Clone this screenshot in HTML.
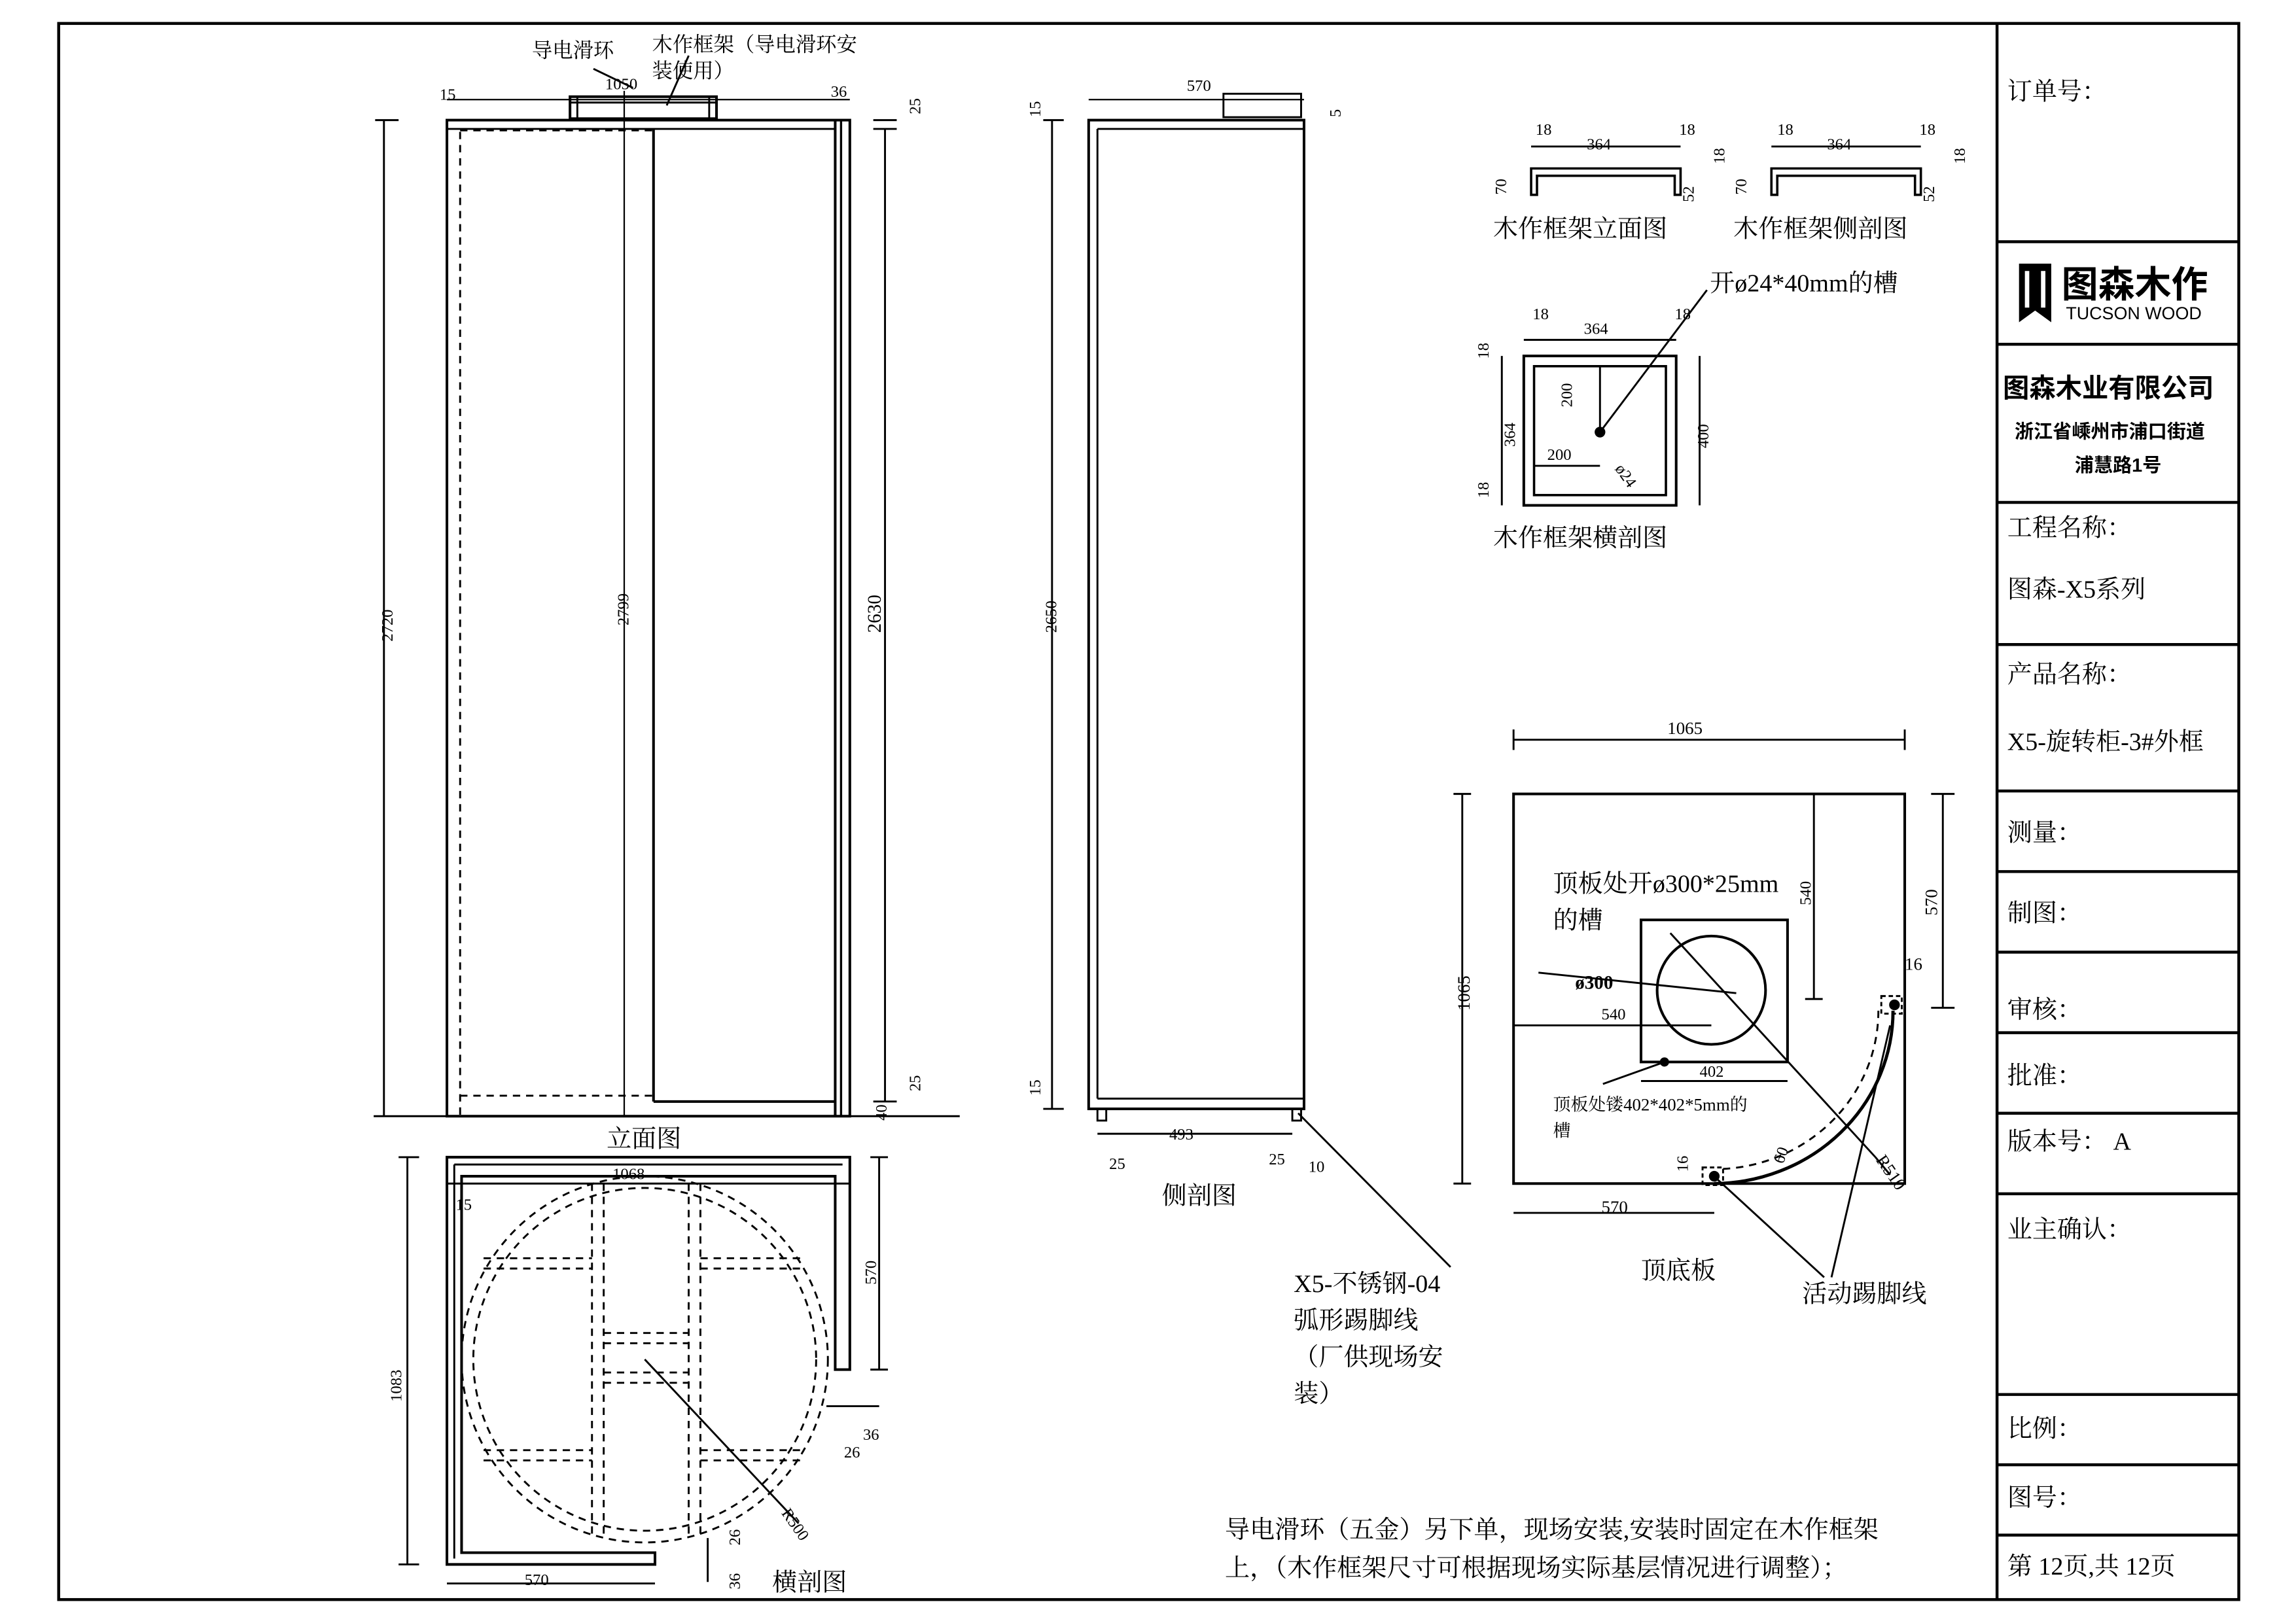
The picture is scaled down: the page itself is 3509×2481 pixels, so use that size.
<!DOCTYPE html>
<html><head><meta charset="utf-8"><style>
html,body{margin:0;padding:0;background:#fff}
svg{display:block}
text{font-family:"Liberation Serif","Noto Serif CJK SC","Noto Sans CJK SC",serif;fill:#000}
.t{font-family:"Liberation Sans","Noto Sans CJK SC",sans-serif}
</style></head><body>
<svg width="3509" height="2481" viewBox="0 0 1567 1108" xmlns="http://www.w3.org/2000/svg">
<g fill="none" stroke="#000" stroke-width="1.3">
<!-- border -->
<rect x="40" y="16" width="1488" height="1076" stroke-width="2"/>
<line x1="1363" y1="16" x2="1363" y2="1092" stroke-width="2"/>
<g stroke-width="2">
<line x1="1363" y1="165" x2="1528" y2="165"/><line x1="1363" y1="235" x2="1528" y2="235"/>
<line x1="1363" y1="343" x2="1528" y2="343"/><line x1="1363" y1="440" x2="1528" y2="440"/>
<line x1="1363" y1="540" x2="1528" y2="540"/><line x1="1363" y1="595" x2="1528" y2="595"/>
<line x1="1363" y1="650" x2="1528" y2="650"/><line x1="1363" y1="705" x2="1528" y2="705"/>
<line x1="1363" y1="760" x2="1528" y2="760"/><line x1="1363" y1="815" x2="1528" y2="815"/>
<line x1="1363" y1="952" x2="1528" y2="952"/><line x1="1363" y1="1000" x2="1528" y2="1000"/>
<line x1="1363" y1="1048" x2="1528" y2="1048"/>
</g>

<!-- elevation -->
<rect x="305" y="82" width="275" height="680" stroke-width="1.8"/>
<line x1="305" y1="88" x2="570" y2="88"/>
<line x1="314" y1="90" x2="314" y2="762" stroke-dasharray="5,4"/>
<line x1="314" y1="89" x2="445" y2="89" stroke-dasharray="5,4"/>
<line x1="314" y1="748" x2="445" y2="748" stroke-dasharray="5,4"/>
<line x1="446" y1="88" x2="446" y2="752" stroke-width="1.8"/>
<line x1="446" y1="752" x2="570" y2="752" stroke-width="1.8"/>
<line x1="570" y1="82" x2="570" y2="762" stroke-width="1.8"/>
<line x1="574" y1="82" x2="574" y2="762" stroke-width="1.5"/>
<line x1="426" y1="62" x2="426" y2="762" stroke-width="1"/>
<rect x="389" y="66" width="100" height="15" stroke-width="1.8"/>
<line x1="389" y1="70" x2="489" y2="70"/><line x1="394" y1="66" x2="394" y2="81"/><line x1="484" y1="66" x2="484" y2="81"/>
<line x1="305" y1="68" x2="580" y2="68" stroke-width="1"/>
<line x1="255" y1="762" x2="655" y2="762"/>
<line x1="262" y1="82" x2="262" y2="762"/><line x1="256" y1="82" x2="272" y2="82"/>
<line x1="604" y1="88" x2="604" y2="752"/><line x1="596" y1="88" x2="612" y2="88"/><line x1="596" y1="752" x2="612" y2="752"/><line x1="596" y1="82" x2="612" y2="82"/>
<line x1="405" y1="47" x2="432" y2="60"/><line x1="470" y1="38" x2="455" y2="72"/>

<!-- side section -->
<rect x="743" y="82" width="147" height="675" stroke-width="1.8"/>
<line x1="749" y1="88" x2="749" y2="750"/><line x1="749" y1="88" x2="890" y2="88"/>
<line x1="749" y1="750" x2="890" y2="750"/>
<rect x="835" y="64" width="53" height="16"/>
<rect x="749" y="757" width="6" height="8"/><rect x="882" y="757" width="6" height="8"/>
<line x1="743" y1="68" x2="890" y2="68" stroke-width="1"/>
<line x1="718" y1="82" x2="718" y2="757"/><line x1="712" y1="82" x2="726" y2="82"/><line x1="712" y1="757" x2="726" y2="757"/>
<line x1="749" y1="774" x2="882" y2="774"/>
<line x1="886" y1="760" x2="990" y2="865"/>

<!-- cross section -->
<path d="M305 790 H580 V935 H570 V803 H315 V1060 H447 V1068 H305 Z" stroke-width="1.8"/>
<line x1="310" y1="795" x2="575" y2="795"/><line x1="310" y1="795" x2="310" y2="1064"/>
<circle cx="440" cy="928" r="125" stroke-dasharray="5,4"/>
<circle cx="440" cy="928" r="117" stroke-dasharray="5,4"/>
<g stroke-dasharray="5,4">
<line x1="404" y1="808" x2="404" y2="1050"/><line x1="412" y1="808" x2="412" y2="1050"/>
<line x1="470" y1="808" x2="470" y2="1050"/><line x1="478" y1="808" x2="478" y2="1050"/>
<line x1="330" y1="859" x2="404" y2="859"/><line x1="330" y1="866" x2="404" y2="866"/>
<line x1="478" y1="859" x2="550" y2="859"/><line x1="478" y1="866" x2="550" y2="866"/>
<line x1="412" y1="910" x2="470" y2="910"/><line x1="412" y1="917" x2="470" y2="917"/>
<line x1="412" y1="937" x2="470" y2="937"/><line x1="412" y1="944" x2="470" y2="944"/>
<line x1="330" y1="990" x2="404" y2="990"/><line x1="330" y1="997" x2="404" y2="997"/>
<line x1="478" y1="990" x2="550" y2="990"/><line x1="478" y1="997" x2="550" y2="997"/>
</g>
<line x1="440" y1="928" x2="545" y2="1040"/>
<line x1="278" y1="790" x2="278" y2="1068"/><line x1="272" y1="790" x2="286" y2="790"/><line x1="272" y1="1068" x2="286" y2="1068"/>
<line x1="600" y1="790" x2="600" y2="935"/><line x1="594" y1="790" x2="606" y2="790"/><line x1="594" y1="935" x2="606" y2="935"/>
<line x1="305" y1="1081" x2="447" y2="1081"/>
<line x1="305" y1="808" x2="580" y2="808"/>
<line x1="564" y1="960" x2="600" y2="960"/>
<line x1="483" y1="1050" x2="483" y2="1080"/>

<!-- frame views -->
<path d="M1045 133 V115 H1147 V133 H1143 V120 H1049 V133 Z" stroke-width="1.6"/>
<line x1="1045" y1="100" x2="1147" y2="100"/>
<path d="M1209 133 V115 H1311 V133 H1307 V120 H1213 V133 Z" stroke-width="1.6"/>
<line x1="1209" y1="100" x2="1311" y2="100"/>
<rect x="1040" y="243" width="104" height="102" stroke-width="1.8"/>
<rect x="1047" y="250" width="90" height="88" stroke-width="1.6"/>
<line x1="1040" y1="232" x2="1144" y2="232"/>
<line x1="1025" y1="243" x2="1025" y2="345"/><line x1="1160" y1="243" x2="1160" y2="345"/>
<line x1="1092" y1="250" x2="1092" y2="295"/><line x1="1047" y1="318" x2="1092" y2="318"/>
<line x1="1092" y1="295" x2="1165" y2="198"/>
<circle cx="1092" cy="295" r="3" fill="#000"/>

<!-- top plate -->
<rect x="1033" y="542" width="267" height="266" stroke-width="1.8"/>
<rect x="1120" y="628" width="100" height="97" stroke-width="1.8"/>
<circle cx="1168" cy="676" r="37" stroke-width="1.8"/>
<line x1="1033" y1="505" x2="1300" y2="505"/><line x1="1033" y1="498" x2="1033" y2="512"/><line x1="1300" y1="498" x2="1300" y2="512"/>
<line x1="998" y1="542" x2="998" y2="808"/><line x1="992" y1="542" x2="1004" y2="542"/><line x1="992" y1="808" x2="1004" y2="808"/>
<line x1="1033" y1="828" x2="1170" y2="828"/>
<line x1="1326" y1="542" x2="1326" y2="688"/><line x1="1318" y1="542" x2="1334" y2="542"/><line x1="1318" y1="688" x2="1334" y2="688"/>
<line x1="1238" y1="542" x2="1238" y2="682"/><line x1="1232" y1="682" x2="1244" y2="682"/>
<line x1="1033" y1="700" x2="1168" y2="700"/>
<line x1="1120" y1="738" x2="1220" y2="738"/>
<line x1="1050" y1="664" x2="1185" y2="678"/>
<line x1="1140" y1="637" x2="1280" y2="790"/>
<line x1="1280" y1="790" x2="1290" y2="802"/>
<path d="M1292 690 A123 118 0 0 1 1170 808" stroke-width="2.2"/>
<path d="M1282 690 A112 108 0 0 1 1176 798" stroke-dasharray="5,4"/>
<rect x="1284" y="680" width="14" height="12" stroke-dasharray="3,2"/>
<rect x="1162" y="797" width="14" height="12" stroke-dasharray="3,2"/>
<circle cx="1293" cy="686" r="3" fill="#000"/><circle cx="1170" cy="803" r="3" fill="#000"/>
<circle cx="1136" cy="725" r="2.5" fill="#000"/>
<line x1="1136" y1="725" x2="1094" y2="740"/>
<line x1="1172" y1="805" x2="1245" y2="872"/>
<line x1="1290" y1="700" x2="1250" y2="872"/>
</g>

<g font-size="11">
<text x="300" y="68">15</text><text x="413" y="61">1050</text><text x="567" y="66">36</text>
<text x="810" y="62">570</text><text x="798" y="778">493</text>
<text x="418" y="805">1068</text>
<text x="1083" y="102">364</text><text x="1048" y="92">18</text><text x="1146" y="92">18</text>
<text x="1247" y="102">364</text><text x="1213" y="92">18</text><text x="1310" y="92">18</text>
<text x="1081" y="228">364</text><text x="1046" y="218">18</text><text x="1143" y="218">18</text>
<text x="1056" y="314">200</text>
<text x="1160" y="735">402</text>
<text x="1093" y="696">540</text>
<text x="311" y="826">15</text>
<text x="589" y="983">36</text><text x="576" y="995">26</text>
<text x="358" y="1082">570</text>
</g>
<g font-size="12">
<text x="1138" y="501">1065</text><text x="1093" y="828">570</text>
<text x="1300" y="662">16</text>
</g>
<g font-size="11">
<text transform="translate(268,438) rotate(-90)">2720</text>
<text transform="translate(429,427) rotate(-90)">2799</text>
<text transform="translate(601,432) rotate(-90)" font-size="13">2630</text>
<text transform="translate(721,432) rotate(-90)">2650</text>
<text transform="translate(274,957) rotate(-90)">1083</text>
<text transform="translate(598,877) rotate(-90)">570</text>
<text transform="translate(1003,690) rotate(-90)" font-size="12">1065</text>
<text transform="translate(1322,625) rotate(-90)" font-size="12">570</text>
<text transform="translate(1236,618) rotate(-90)">540</text>
<text transform="translate(1034,305) rotate(-90)">364</text>
<text transform="translate(1166,306) rotate(-90)">400</text>
<text transform="translate(1073,278) rotate(-90)">200</text>
<text transform="translate(628,78) rotate(-90)">25</text>
<text transform="translate(628,745) rotate(-90)">25</text>
<text transform="translate(605,765) rotate(-90)">40</text>
<text transform="translate(710,80) rotate(-90)">15</text>
<text transform="translate(710,748) rotate(-90)">15</text>
<text transform="translate(915,80) rotate(-90)">5</text>
<text transform="translate(1028,133) rotate(-90)">70</text>
<text transform="translate(1192,133) rotate(-90)">70</text>
<text transform="translate(1177,112) rotate(-90)">18</text>
<text transform="translate(1341,112) rotate(-90)">18</text>
<text transform="translate(1016,245) rotate(-90)">18</text>
<text transform="translate(1016,340) rotate(-90)">18</text>
<text transform="translate(1156,138) rotate(-90)">52</text>
<text transform="translate(1320,138) rotate(-90)">52</text>
<text transform="translate(1152,800) rotate(-90)">16</text>
<text transform="translate(1217,795) rotate(-70)">60</text>
<text transform="translate(1280,792) rotate(55)" font-size="12">R510</text>
<text transform="translate(533,1033) rotate(55)">R500</text>
<text transform="translate(1102,320) rotate(55)">ø24</text>
<text transform="translate(505,1055) rotate(-90)">26</text>
<text transform="translate(505,1085) rotate(-90)">36</text>
</g>
<text x="757" y="798" font-size="11">25</text><text x="866" y="795" font-size="11">25</text><text x="893" y="800" font-size="11">10</text>

<g font-size="14">
<text x="363" y="39">导电滑环</text>
<text x="445" y="35">木作框架（导电滑环安</text>
<text x="445" y="53">装使用）</text>
</g>
<g font-size="17">
<text x="414" y="783">立面图</text>
<text x="793" y="822">侧剖图</text>
<text x="527" y="1086">横剖图</text>
<text x="1120" y="873">顶底板</text>
<text x="1230" y="889">活动踢脚线</text>
<text x="883" y="882">X5-不锈钢-04</text>
<text x="883" y="907">弧形踢脚线</text>
<text x="883" y="932">（厂供现场安</text>
<text x="883" y="957">装）</text>
<text x="1019" y="162">木作框架立面图</text>
<text x="1183" y="162">木作框架侧剖图</text>
<text x="1167" y="199">开ø24*40mm的槽</text>
<text x="1019" y="373">木作框架横剖图</text>
<text x="1060" y="609">顶板处开ø300*25mm</text>
<text x="1060" y="634">的槽</text>
<text x="836" y="1050">导电滑环（五金）另下单，现场安装,安装时固定在木作框架</text>
<text x="836" y="1076">上，（木作框架尺寸可根据现场实际基层情况进行调整）；</text>
</g>
<text x="1075" y="675" font-size="13" font-weight="bold">ø300</text>
<text x="1060" y="758" font-size="12">顶板处镂402*402*5mm的</text>
<text x="1060" y="776" font-size="12">槽</text>

<!-- title block -->
<g font-size="17">
<text x="1370" y="68">订单号：</text>
<text x="1370" y="366">工程名称：</text>
<text x="1370" y="408">图森-X5系列</text>
<text x="1370" y="466">产品名称：</text>
<text x="1370" y="512">X5-旋转柜-3#外框</text>
<text x="1370" y="574">测量：</text>
<text x="1370" y="629">制图：</text>
<text x="1370" y="695">审核：</text>
<text x="1370" y="740">批准：</text>
<text x="1370" y="785">版本号：   A</text>
<text x="1370" y="845">业主确认：</text>
<text x="1370" y="981">比例：</text>
<text x="1370" y="1028">图号：</text>
<text x="1370" y="1075">第 12页,共 12页</text>
</g>
<path d="M1378 180 H1400 V220 L1389 212 L1378 220 Z" fill="#000"/>
<rect x="1382" y="185" width="3" height="25" fill="#fff"/><rect x="1393" y="185" width="3" height="25" fill="#fff"/>
<text class="t" x="1407" y="203" font-size="25" font-weight="bold">图森木作</text>
<text class="t" x="1410" y="218" font-size="12">TUCSON WOOD</text>
<text class="t" x="1367" y="271" font-size="18" font-weight="bold">图森木业有限公司</text>
<text class="t" x="1375" y="299" font-size="13" font-weight="bold">浙江省嵊州市浦口街道</text>
<text class="t" x="1416" y="322" font-size="13" font-weight="bold">浦慧路1号</text>
</svg>
</body></html>
